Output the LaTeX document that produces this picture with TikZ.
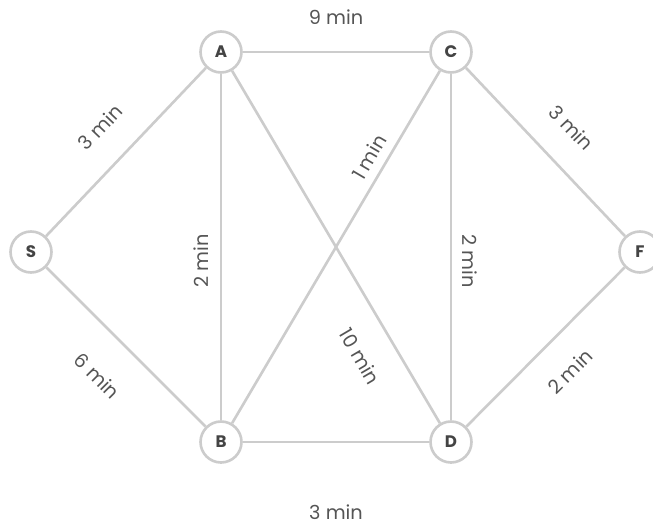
\documentclass[tikz,border=0pt]{standalone}
\usepackage{fontspec}
\setmainfont{Poppins}
\usepackage{xcolor}
\usepackage{tikz}
\usetikzlibrary{positioning}

\definecolor{edgegray}{HTML}{CCCCCC}
\definecolor{labelgray}{HTML}{555555}
\definecolor{nodetext}{HTML}{444444}

\tikzset{
	stop/.style={shape=circle, draw=edgegray, fill=white, line width=1.5pt, minimum size=0.82cm, inner sep=0pt, text=nodetext, font=\fontsize{9.5}{11}\selectfont\bfseries},
	road/.style={draw=edgegray, line width=1.5pt},
	dur/.style={sloped, inner sep=0pt, text=labelgray, font=\fontsize{11}{13}\selectfont}
}

\begin{document}
\begin{tikzpicture}[x=0.02cm, y=-0.02cm]
	\useasboundingbox (0, 0) rectangle (653, 521);
	% Nodes and roads:
	\node[stop](S) at (31, 252){S};
	\node[stop](A) at (221, 52){A};
	\node[stop](C) at (451, 52){C};
	\node[stop](F) at (640, 252){F};
	\node[stop](B) at (221, 442){B};
	\node[stop](D) at (451, 442){D};
	\draw[road] (S) -- node[dur, above=0.54cm]{3 min} (A);
	\draw[road] (S) -- node[dur, below=0.64cm]{6 min} (B);
	\draw[road] (A) -- node[dur, above=0.52cm]{9 min} (C);
	\draw[road] (B) -- node[dur, below=1.22cm]{3 min} (D);
	\draw[road] (B) -- node[dur, above=0.22cm, pos=0.46]{2 min} (A);
	\draw[road] (C) -- node[dur, above=0.2cm, pos=0.54]{2 min} (D);
	\draw[road] (B) -- node[dur, above=0.17cm, pos=0.73]{1 min} (C);
	\draw[road] (A) -- node[dur, below=0.52cm, pos=0.76]{10 min} (D);
	\draw[road] (C) -- node[dur, above=0.54cm]{3 min} (F);
	\draw[road] (D) -- node[dur, below=0.52cm]{2 min} (F);
\end{tikzpicture}
\end{document}
